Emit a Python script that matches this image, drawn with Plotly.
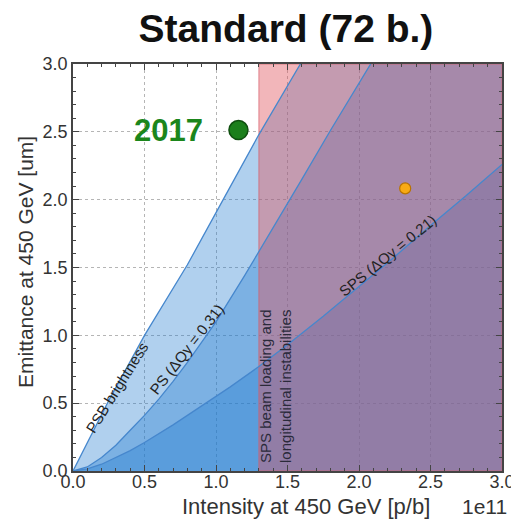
import plotly.graph_objects as go

# ---- data (intensity in units of 1e11 p/b, emittance in um) ----
psb_x = [0.0, 0.25, 0.5, 0.8, 1.05, 1.3, 1.59, 2.0, 3.0]
psb_y = [0.0, 0.52, 1.0, 1.52, 2.0, 2.48, 3.0, 3.72, 5.5]

ps_x = [0.0, 0.1, 0.2, 0.3, 0.4, 0.5, 0.6, 0.7, 0.8, 0.9, 1.0, 1.2, 1.4, 1.6, 1.8, 2.08, 2.5, 3.0]
ps_y = [0.0, 0.03, 0.10, 0.19, 0.30, 0.41, 0.53, 0.66, 0.80, 0.95, 1.10, 1.44, 1.79, 2.15, 2.51, 3.0, 3.73, 4.6]

sps_x = [0.0, 0.1, 0.2, 0.3, 0.4, 0.5, 0.7, 0.9, 1.1, 1.3, 1.5, 1.75, 2.0, 2.25, 2.5, 2.75, 3.0]
sps_y = [0.0, 0.015, 0.05, 0.10, 0.15, 0.21, 0.34, 0.48, 0.62, 0.77, 0.93, 1.14, 1.36, 1.58, 1.81, 2.03, 2.26]

sps_beam_loading_limit = 1.3

point_2017_x = [1.157]
point_2017_y = [2.513]
point_target_x = [2.323]
point_target_y = [2.083]

x_range = [0.0, 3.0]
y_range = [0.0, 3.0]
x_ticks = [0.0, 0.5, 1.0, 1.5, 2.0, 2.5, 3.0]
y_ticks = [0.0, 0.5, 1.0, 1.5, 2.0, 2.5, 3.0]

FONT = "Liberation Sans, Arial, sans-serif"
BLUE_FILL = "rgba(30,120,205,0.35)"
BLUE_LINE = "rgb(70,135,205)"
RED_FILL = "rgba(225,80,90,0.42)"

fig = go.Figure()

# stacked translucent blue regions
for xs, ys in [(psb_x, psb_y), (ps_x, ps_y), (sps_x, sps_y)]:
    fig.add_trace(go.Scatter(x=xs, y=ys, mode="lines", fill="tozeroy",
                             fillcolor=BLUE_FILL, line=dict(width=0),
                             hoverinfo="skip", showlegend=False))

# SPS beam loading region
fig.add_trace(go.Scatter(
    x=[sps_beam_loading_limit, sps_beam_loading_limit, x_range[1], x_range[1], sps_beam_loading_limit],
    y=[y_range[0], y_range[1], y_range[1], y_range[0], y_range[0]],
    mode="lines", fill="toself", fillcolor=RED_FILL,
    line=dict(width=1, color="rgba(215,95,105,0.7)"),
    hoverinfo="skip", showlegend=False))

# boundary lines
for xs, ys in [(psb_x, psb_y), (ps_x, ps_y), (sps_x, sps_y)]:
    fig.add_trace(go.Scatter(x=xs, y=ys, mode="lines",
                             line=dict(width=1.3, color=BLUE_LINE),
                             hoverinfo="skip", showlegend=False))

# points
fig.add_trace(go.Scatter(x=point_2017_x, y=point_2017_y, mode="markers",
                         marker=dict(size=19, color="#1b7f1b",
                                     line=dict(width=1.5, color="#0f4f0f")),
                         showlegend=False, cliponaxis=False))
fig.add_trace(go.Scatter(x=point_target_x, y=point_target_y, mode="markers",
                         marker=dict(size=11, color="#f8aa14",
                                     line=dict(width=1.2, color="#b87300")),
                         showlegend=False))

ann_font = dict(family=FONT, size=15, color="#222222")
annotations = [
    dict(x=0.306, y=0.617, text="PSB brightness", textangle=-58, font=ann_font),
    dict(x=0.80, y=0.90, text="PS (ΔQy = 0.31)", textangle=-52, font=ann_font),
    dict(x=2.20, y=1.587, text="SPS (ΔQy = 0.21)", textangle=-39, font=ann_font),
    dict(x=1.416, y=0.623, text="SPS beam loading and<br>longitudinal instabilities",
         textangle=-90, align="left", font=dict(family=FONT, size=15, color="#2a2a3a")),
    dict(x=0.67, y=2.513, text="<b>2017</b>", font=dict(family=FONT, size=31, color="#1b861b")),
    # axis labels and offset text
    dict(xref="paper", yref="paper", x=0.543, y=-0.088, text="Intensity at 450 GeV [p/b]",
         font=dict(family=FONT, size=22, color="#333333")),
    dict(xref="paper", yref="paper", x=-0.112, y=0.5135, text="Emittance at 450 GeV [um]",
         textangle=-90, font=dict(family=FONT, size=21, color="#333333")),
    dict(xref="paper", yref="paper", x=0.960, y=-0.086, text="1e11",
         font=dict(family=FONT, size=21, color="#333333")),
]
for a in annotations:
    a.setdefault("xref", "x")
    a.setdefault("yref", "y")
    a["showarrow"] = False
    a["xanchor"] = "center"
    a["yanchor"] = "middle"
fig.update_layout(annotations=annotations)

axis_common = dict(
    showgrid=True, gridcolor="#b5b5b5", griddash="dot", gridwidth=1,
    showline=True, linecolor="#444444", linewidth=1.5, mirror="allticks",
    ticks="inside", ticklen=6, tickcolor="#444444", tickwidth=1,
    tickformat=".1f", tickfont=dict(family=FONT, size=18, color="#333333"),
    minor=dict(ticks="inside", ticklen=3, tickcolor="#444444", dtick=0.1, showgrid=False),
    zeroline=False, automargin=False,
)
fig.update_xaxes(range=x_range, tickvals=x_ticks, ticklabelstandoff=-6, **axis_common)
fig.update_yaxes(range=y_range, tickvals=y_ticks, **axis_common)

fig.update_layout(
    width=511, height=513,
    margin=dict(l=65, r=17, t=56, b=50),
    paper_bgcolor="white", plot_bgcolor="white",
    title=dict(text="<b>Standard (72 b.)</b>", x=0.544, xanchor="center",
               y=1 - 20 / 513, yanchor="middle", yref="container",
               font=dict(family=FONT, size=39, color="#111111")),
    showlegend=False,
)

fig.write_html("out.html")
